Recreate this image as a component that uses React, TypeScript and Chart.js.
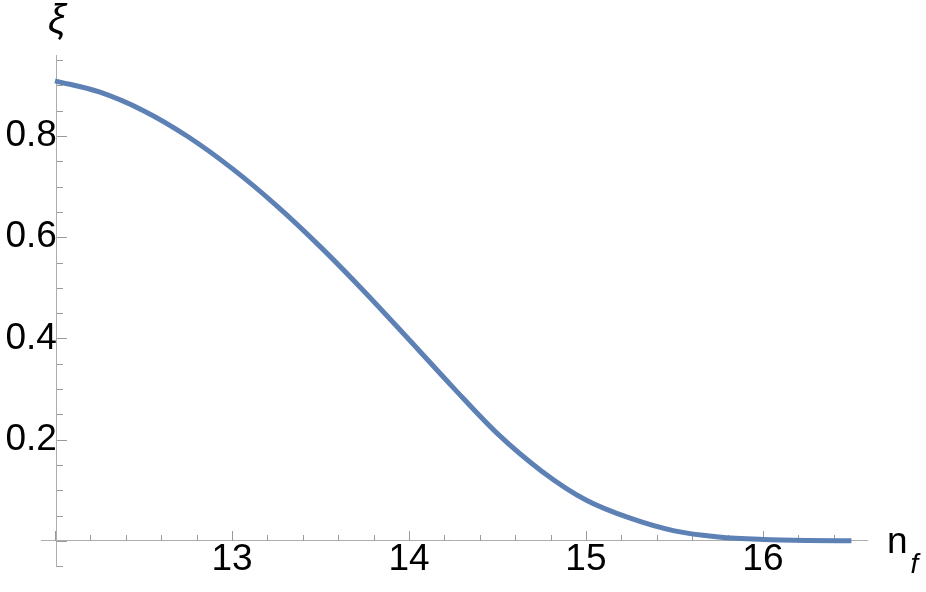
import React, { useEffect, useRef } from 'react';
import { Chart, registerables } from 'chart.js';

Chart.register(...registerables);

// n_f values (x) and xi values (y)
const nfValues = [12.0, 12.25, 12.5, 12.75, 13.0, 13.25, 13.5, 13.75, 14.0, 14.25, 14.5, 14.75, 15.0, 15.25, 15.5, 15.75, 16.0, 16.25, 16.5];
const xiValues = [0.909, 0.887, 0.850, 0.799, 0.736, 0.663, 0.581, 0.492, 0.398, 0.303, 0.212, 0.138, 0.081, 0.045, 0.020, 0.008, 0.003, 0.001, 0.0005];

// Tick positions
const xTickValues = [12.0, 12.2, 12.4, 12.6, 12.8, 13.0, 13.2, 13.4, 13.6, 13.8, 14.0, 14.2, 14.4, 14.6, 14.8, 15.0, 15.2, 15.4, 15.6, 15.8, 16.0, 16.2, 16.4];
const xMajorTicks = [12, 13, 14, 15, 16];
const xTickLabels = [13, 14, 15, 16];
const yTickValues = [-0.05, 0, 0.05, 0.1, 0.15, 0.2, 0.25, 0.3, 0.35, 0.4, 0.45, 0.5, 0.55, 0.6, 0.65, 0.7, 0.75, 0.8, 0.85, 0.9, 0.95];
const yMajorTicks = [0, 0.2, 0.4, 0.6, 0.8];
const yTickLabels = [0.2, 0.4, 0.6, 0.8];

const xRange = [11.921, 16.588];
const yRange = [-0.0494, 0.96];
const yAxisCrossAt = 12.011;

const xTitle = 'n';
const xTitleSub = 'f';
const yTitle = 'ξ';

const near = (a: number, list: number[]) => list.some((v) => Math.abs(v - a) < 1e-6);

const FONT = "'Liberation Sans', Arial, sans-serif";
const AXIS_COLOR = '#adadad';
const TICK_COLOR = '#9a9a9a';
const LABEL_SIZE = 37;

const mmaPlugin = {
  id: 'mmaTicks',
  beforeDatasetsDraw(chart: any) {
    const { ctx, scales } = chart;
    const xs = scales.x;
    const ys = scales.y;
    const axisY = ys.getPixelForValue(0);
    const axisX = xs.getPixelForValue(yAxisCrossAt);
    ctx.save();
    ctx.strokeStyle = TICK_COLOR;
    ctx.lineWidth = 1;
    xs.ticks.forEach((t: any) => {
      const px = Math.round(xs.getPixelForValue(t.value)) + 0.5;
      const len = near(t.value, xMajorTicks) ? 10 : 6;
      ctx.beginPath();
      ctx.moveTo(px, axisY);
      ctx.lineTo(px, axisY - len);
      ctx.stroke();
    });
    ys.ticks.forEach((t: any) => {
      const py = Math.round(ys.getPixelForValue(t.value)) + 0.5;
      const len = near(t.value, yMajorTicks) ? 10 : 6;
      ctx.beginPath();
      ctx.moveTo(axisX, py);
      ctx.lineTo(axisX + len, py);
      ctx.stroke();
    });
    ctx.restore();
  },
  afterDraw(chart: any) {
    const { ctx, scales } = chart;
    const xs = scales.x;
    const ys = scales.y;
    const axisY = ys.getPixelForValue(0);
    const axisX = xs.getPixelForValue(yAxisCrossAt);
    ctx.save();
    ctx.fillStyle = '#000';
    // y title
    ctx.font = `italic 40px ${FONT}`;
    ctx.textAlign = 'center';
    ctx.textBaseline = 'alphabetic';
    ctx.fillText(yTitle, axisX, ys.top - 22);
    // x title
    ctx.textAlign = 'left';
    ctx.font = `${LABEL_SIZE}px ${FONT}`;
    const nx = xs.right + 20;
    ctx.fillText(xTitle, nx, axisY + 12);
    const nw = ctx.measureText(xTitle).width;
    ctx.font = `italic 28px ${FONT}`;
    ctx.fillText(xTitleSub, nx + nw + 3, axisY + 32);
    ctx.restore();
  },
};

export default function App() {
  const ref = useRef<HTMLCanvasElement>(null);
  useEffect(() => {
    const canvas = ref.current;
    if (!canvas) return;
    const chart = new Chart(canvas, {
      type: 'line',
      data: {
        datasets: [
          {
            data: nfValues.map((x, i) => ({ x, y: xiValues[i] })),
            borderColor: '#5e81b5',
            borderWidth: 5,
            pointRadius: 0,
            cubicInterpolationMode: 'monotone',
            fill: false,
          },
        ],
      },
      options: {
        animation: false,
        responsive: false,
        devicePixelRatio: 1,
        layout: { padding: { left: 41, right: 59, top: 55, bottom: 26 } },
        plugins: { legend: { display: false }, tooltip: { enabled: false } },
        scales: {
          x: {
            type: 'linear',
            min: xRange[0],
            max: xRange[1],
            position: { y: 0 },
            grid: { display: false, drawTicks: false },
            border: { display: true, color: AXIS_COLOR, width: 1 },
            afterBuildTicks: (s: any) => {
              s.ticks = xTickValues.map((value) => ({ value }));
            },
            ticks: {
              autoSkip: false,
              maxRotation: 0,
              padding: 8,
              color: '#000',
              font: { family: FONT, size: LABEL_SIZE, lineHeight: 0.6 },
              callback: (v: any) => (near(Number(v), xTickLabels) ? String(Math.round(Number(v))) : ''),
            },
          },
          y: {
            type: 'linear',
            min: yRange[0],
            max: yRange[1],
            position: { x: yAxisCrossAt },
            grid: { display: false, drawTicks: false },
            border: { display: true, color: AXIS_COLOR, width: 1 },
            afterBuildTicks: (s: any) => {
              s.ticks = yTickValues.map((value) => ({ value }));
            },
            ticks: {
              autoSkip: false,
              padding: 7,
              color: '#000',
              font: { family: FONT, size: LABEL_SIZE, lineHeight: 0.6 },
              callback: (v: any) => (near(Number(v), yTickLabels) ? Number(v).toFixed(1) : ''),
            },
          },
        },
      },
      plugins: [mmaPlugin],
    } as any);
    return () => chart.destroy();
  }, []);
  return (
    <div style={{ position: 'absolute', left: 0, top: 0, width: 926, height: 592, background: '#fff' }}>
      <canvas ref={ref} width={926} height={592} style={{ display: 'block' }} />
    </div>
  );
}
